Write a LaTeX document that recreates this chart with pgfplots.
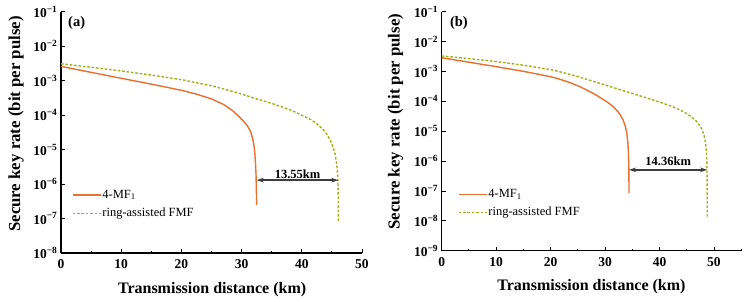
\documentclass[border=0pt]{standalone}
\usepackage{fontspec}
\setmainfont{Liberation Serif}
\usepackage{pgfplots}
\pgfplotsset{compat=1.18}
\usetikzlibrary{arrows.meta}

\definecolor{mforange}{RGB}{232,112,48}
\definecolor{ringgreen}{RGB}{160,178,24}
\definecolor{arrowgray}{RGB}{60,60,60}

\newcommand{\fs}[1]{\fontsize{#1}{#1}\selectfont}
\newcommand{\tickfont}{\fontsize{13.5}{13.5}\selectfont\bfseries}

\tikzset{
  mf/.style={mforange, line width=1.4pt},
  ring/.style={ringgreen, line width=1.4pt, dash pattern=on 2.6pt off 1.8pt},
  gap/.style={arrowgray, line width=1.5pt,
    {Stealth[length=7pt,width=4.5pt]}-{Stealth[length=7pt,width=4.5pt]}},
}

\pgfplotsset{
  kr/.style={
    scale only axis,
    axis x line*=bottom,
    axis y line*=left,
    axis line style={line width=1.2pt},
    xmin=0,
    xtick={0,10,...,50},
    minor xtick={5,15,...,55},
    major tick length=4pt,
    minor tick length=2.2pt,
    every tick/.style={line width=0.9pt, black},
    tick align=inside,
    xticklabel style={font=\tickfont, yshift=-3pt},
    yticklabel style={font=\tickfont},
    xticklabel={{\tickfont\pgfmathprintnumber[assume math mode=true]{\tick}}},
    yticklabel={{\tickfont\pgfmathtruncatemacro\e{abs(round(\tick))}10\textsuperscript{−\e}}},
    xlabel={Transmission distance (km)},
    ylabel={Secure key rate (bit per pulse)},
    xlabel style={font=\fs{16}\bfseries, anchor=center},
    ylabel style={font=\fs{16.8}\bfseries, anchor=center},
    legend cell align=left,
    legend style={draw=none, fill=none, inner sep=0pt, outer sep=0pt,
      font=\fs{12.5}, anchor=west, row sep=4.3pt,
      nodes={inner sep=1pt, text height=9pt, text depth=3pt}},
  },
  legend image code/.code={\draw[#1] (0pt,0pt) -- (28pt,0pt);},
}

\begin{document}
\begin{tikzpicture}[x=1pt,y=1pt]
\path[use as bounding box] (0,0) rectangle (747,301);

% (a)
\begin{axis}[
  ymode=log, log basis y=10,
  at={(61pt,48pt)}, anchor=south west,
  width=301pt, height=241.3pt,
  xmax=50, ymin=1e-8, ymax=1e-1,
  ytickten={-8,...,-1},
  kr,
  xlabel style={at={(axis description cs:0.502,-0.153)}},
  ylabel style={at={(axis description cs:-0.1495,0.535)}},
  legend style={at={(axis description cs:0.0365,0.202)}},
]
\addplot[mf] coordinates {
  (0,2.60e-3) (5,1.74e-3) (10,1.17e-3) (15,7.94e-4) (20,5.25e-4) (22.5,4.07e-4)
  (25,2.95e-4) (27,2.04e-4) (28.5,1.35e-4) (29.5,9.33e-5) (30.3,6.76e-5)
  (31,4.79e-5) (31.5,3.31e-5) (31.9,1.91e-5) (32.15,1.0e-5) (32.3,4.47e-6)
  (32.4,1.78e-6) (32.45,7.94e-7) (32.5,2.51e-7)
};
\addlegendentry{4-MF\textsubscript{1}}
\addplot[ring] coordinates {
  (0,3.09e-3) (5,2.45e-3) (10,1.91e-3) (15,1.45e-3) (20,1.07e-3) (25,7.08e-4)
  (27,5.75e-4) (30,4.07e-4) (32.5,2.95e-4) (35,2.19e-4) (37,1.66e-4)
  (38.5,1.32e-4) (40.2,9.55e-5) (41.5,7.41e-5) (42.5,5.62e-5) (43.5,3.89e-5)
  (44.1,2.88e-5) (44.7,1.91e-5) (45.2,1.17e-5) (45.55,7.08e-6) (45.8,3.80e-6)
  (45.95,1.91e-6) (46.02,1.0e-6) (46.06,3.16e-7) (46.08,7.94e-8)
};
\addlegendentry{ring-assisted FMF}
\draw[gap] (axis cs:32.5,1.3e-6) -- (axis cs:46.05,1.3e-6);
\node[font=\fs{12.5}\bfseries, anchor=base, yshift=2pt] at (axis cs:39.3,1.3e-6) {13.55km};
\node[font=\fs{14.5}\bfseries, anchor=west, inner sep=0pt] at (axis cs:1.16,4.7e-2) {(a)};
\end{axis}

% (b)
\begin{axis}[
  ymode=log, log basis y=10,
  at={(441.7pt,50.3pt)}, anchor=south west,
  width=299.5pt, height=239pt,
  xmax=55, ymin=1e-9, ymax=1e-1,
  ytickten={-9,...,-1},
  kr,
  xlabel style={at={(axis description cs:0.50,-0.151)}},
  ylabel style={at={(axis description cs:-0.154,0.54)}},
  legend style={at={(axis description cs:0.0544,0.198)}},
]
\addplot[mf] coordinates {
  (0,2.88e-3) (5,2.04e-3) (10,1.45e-3) (15,1.01e-3) (20,6.68e-4) (21.7,5.50e-4)
  (23.5,4.27e-4) (25.4,3.09e-4) (27.8,1.86e-4) (29,1.38e-4) (30.3,9.77e-5)
  (31.3,7.08e-5) (32.1,5.13e-5) (32.8,3.55e-5) (33.3,2.40e-5) (33.7,1.51e-5)
  (34.0,8.51e-6) (34.2,3.98e-6) (34.3,1.82e-6) (34.37,5.01e-7) (34.4,8.51e-8)
};
\addlegendentry{4-MF\textsubscript{1}}
\addplot[ring] coordinates {
  (0,3.31e-3) (5,2.69e-3) (10,2.14e-3) (15,1.62e-3) (20,1.15e-3) (21.7,9.77e-4)
  (25,6.76e-4) (27.8,4.68e-4) (31,3.09e-4) (34,2.09e-4) (37,1.41e-4)
  (40.1,9.33e-5) (42,7.08e-5) (43.8,5.13e-5) (45.1,3.80e-5) (46.2,2.69e-5)
  (47,1.95e-5) (47.7,1.26e-5) (48.1,8.32e-6) (48.35,5.13e-6) (48.55,2.82e-6)
  (48.66,1.41e-6) (48.72,5.01e-7) (48.75,1.0e-7) (48.77,1.38e-8)
};
\addlegendentry{ring-assisted FMF}
\draw[gap] (axis cs:34.4,5.1e-7) -- (axis cs:48.76,5.1e-7);
\node[font=\fs{12.5}\bfseries, anchor=base, yshift=4pt] at (axis cs:41.6,5.1e-7) {14.36km};
\node[font=\fs{14.5}\bfseries, anchor=west, inner sep=0pt] at (axis cs:1.5,4.2e-2) {(b)};
\end{axis}
\end{tikzpicture}
\end{document}
